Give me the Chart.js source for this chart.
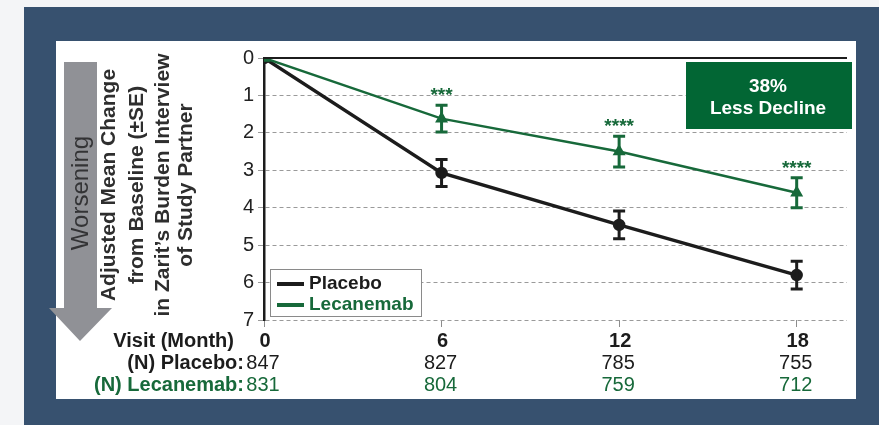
<!DOCTYPE html>
<html>
<head>
<meta charset="utf-8">
<script src="https://cdn.jsdelivr.net/npm/chart.js@4.4.0/dist/chart.umd.min.js"></script>
<style>
  body { margin: 0; background: #fff; }
  canvas { display: block; }
</style>
</head>
<body>
<canvas id="zbiChart" width="879" height="425"></canvas>
<script>
// values
const visitMonths = [0, 6, 12, 18];
const placeboMean = [0, 3.07, 4.46, 5.8];
const placeboSE = [0, 0.36, 0.37, 0.37];
const lecanemabMean = [0, 1.62, 2.5, 3.6];
const lecanemabSE = [0, 0.36, 0.41, 0.4];
const placeboN = [847, 827, 785, 755];
const lecanemabN = [831, 804, 759, 712];
const significance = ["", "***", "****", "****"];
const yTicks = [0, 1, 2, 3, 4, 5, 6, 7];

const GREEN = "#17693a";
const BLACK = "#1c1c1c";
const SANS = "'Liberation Sans', Arial, sans-serif";

const decor = {
    id: "decor",
    beforeDraw(chart) {
        const c = chart.ctx;
        c.save();
        c.fillStyle = "#f4f5f7";
        c.fillRect(0, 0, 879, 425);
        c.fillStyle = "#37516f";
        c.fillRect(24, 7, 855, 418);
        c.fillStyle = "#ffffff";
        c.fillRect(56, 41, 800, 358);

        // worsening arrow
        c.fillStyle = "#909196";
        c.beginPath();
        c.moveTo(64, 62); c.lineTo(97, 62); c.lineTo(97, 308);
        c.lineTo(112, 308); c.lineTo(80, 341); c.lineTo(49, 308);
        c.lineTo(64, 308); c.closePath();
        c.fill();

        c.translate(81, 193);
        c.rotate(-Math.PI / 2);
        c.fillStyle = "#333335";
        c.font = "24px " + SANS;
        c.textAlign = "center";
        c.textBaseline = "middle";
        c.fillText("Worsening", 0, 0);
        c.restore();

        // y axis title
        const lines = ["Adjusted Mean Change", "from Baseline (\u00b1SE)", "in Zarit\u2019s Burden Interview", "of Study Partner"];
        const xs = [109, 137, 163, 186];
        c.save();
        c.fillStyle = "#2e2e2e";
        c.font = "bold 21px " + SANS;
        c.textAlign = "center";
        c.textBaseline = "middle";
        lines.forEach((t, i) => {
            c.save();
            c.translate(xs[i], 185);
            c.rotate(-Math.PI / 2);
            c.fillText(t, 0, 0);
            c.restore();
        });
        c.restore();
    },
    afterDatasetsDraw(chart) {
        const c = chart.ctx;
        const xS = chart.scales.x, yS = chart.scales.y;
        const area = chart.chartArea;
        c.save();

        // solid zero line on top
        c.strokeStyle = BLACK;
        c.lineWidth = 2;
        c.beginPath();
        c.moveTo(area.left, yS.getPixelForValue(0));
        c.lineTo(area.right, yS.getPixelForValue(0));
        c.stroke();

        // error bars
        const bars = [[placeboMean, placeboSE, BLACK], [lecanemabMean, lecanemabSE, GREEN]];
        bars.forEach(([m, se, col]) => {
            c.strokeStyle = col;
            c.lineWidth = 3;
            visitMonths.forEach((mo, j) => {
                if (!se[j]) return;
                const x = xS.getPixelForValue(mo);
                const y1 = yS.getPixelForValue(m[j] - se[j]);
                const y2 = yS.getPixelForValue(m[j] + se[j]);
                c.beginPath();
                c.moveTo(x, y1); c.lineTo(x, y2);
                c.moveTo(x - 6, y1); c.lineTo(x + 6, y1);
                c.moveTo(x - 6, y2); c.lineTo(x + 6, y2);
                c.stroke();
            });
        });

        // significance stars
        c.fillStyle = GREEN;
        c.font = "bold 19px " + SANS;
        c.textAlign = "center";
        c.textBaseline = "middle";
        visitMonths.forEach((mo, j) => {
            if (!significance[j]) return;
            const y = yS.getPixelForValue(lecanemabMean[j] - lecanemabSE[j]) - 9;
            c.fillText(significance[j], xS.getPixelForValue(mo), y);
        });

        // "less decline" box
        c.fillStyle = "#026634";
        c.fillRect(686, 62, 166, 67);
        c.fillStyle = "#ffffff";
        c.font = "bold 19px " + SANS;
        c.fillText("38%", 768, 87);
        c.fillText("Less Decline", 768, 109);

        // legend
        c.fillStyle = "#ffffff";
        c.fillRect(270, 269, 151, 47);
        c.strokeStyle = "#8a8a8a";
        c.lineWidth = 1;
        c.strokeRect(270.5, 269.5, 151, 47);
        c.lineWidth = 4;
        c.strokeStyle = BLACK;
        c.beginPath(); c.moveTo(277, 284); c.lineTo(304, 284); c.stroke();
        c.strokeStyle = GREEN;
        c.beginPath(); c.moveTo(277, 305); c.lineTo(304, 305); c.stroke();
        c.textAlign = "left";
        c.font = "bold 19px " + SANS;
        c.fillStyle = BLACK;
        c.fillText("Placebo", 309, 284);
        c.fillStyle = GREEN;
        c.fillText("Lecanemab", 309, 305);

        // table under the axis
        c.font = "bold 20px " + SANS;
        c.textAlign = "right";
        c.fillStyle = BLACK;
        c.fillText("Visit (Month)", 234, 341);
        c.fillText("(N) Placebo:", 244, 363);
        c.fillStyle = GREEN;
        c.fillText("(N) Lecanemab:", 244, 385);
        c.textAlign = "center";
        visitMonths.forEach((mo, j) => {
            const x = xS.getPixelForValue(mo);
            c.fillStyle = BLACK;
            c.font = "bold 20px " + SANS;
            c.fillText(String(mo), x + 1, 341);
            c.font = "20px " + SANS;
            c.fillText(String(placeboN[j]), x - 1, 363);
            c.fillStyle = GREEN;
            c.fillText(String(lecanemabN[j]), x - 1, 385);
        });
        c.restore();
    }
};

new Chart(document.getElementById("zbiChart"), {
    type: "line",
    data: {
        datasets: [
            {
                label: "Lecanemab",
                data: visitMonths.map((m, i) => ({ x: m, y: lecanemabMean[i] })),
                borderColor: GREEN,
                backgroundColor: GREEN,
                borderWidth: 2.5,
                pointStyle: "triangle",
                pointRadius: 5,
                tension: 0
            },
            {
                label: "Placebo",
                data: visitMonths.map((m, i) => ({ x: m, y: placeboMean[i] })),
                borderColor: BLACK,
                backgroundColor: BLACK,
                borderWidth: 3.5,
                pointStyle: "circle",
                pointRadius: 4.5,
                tension: 0
            }
        ]
    },
    options: {
        responsive: false,
        animation: false,
        layout: { padding: { left: 214, right: 32, top: 58, bottom: 85 } },
        plugins: { legend: { display: false }, tooltip: { enabled: false } },
        scales: {
            x: {
                type: "linear",
                min: 0,
                max: 19.7,
                afterBuildTicks: s => { s.ticks = visitMonths.map(v => ({ value: v })); },
                afterFit: s => { s.height = 20; },
                grid: { drawOnChartArea: false, color: "#8c8c8c", tickLength: 7 },
                border: { display: false },
                ticks: { display: false }
            },
            y: {
                reverse: true,
                min: 0,
                max: 7,
                afterBuildTicks: s => { s.ticks = yTicks.map(v => ({ value: v })); },
                afterFit: s => { s.width = 50; },
                grid: { color: "#9a9a9a", lineWidth: 1, tickLength: 6 },
                border: { color: BLACK, width: 2.5, dash: [4, 3] },
                ticks: { color: "#222", font: { size: 20, family: SANS }, padding: 4 }
            }
        }
    },
    plugins: [decor]
});
</script>
</body>
</html>
